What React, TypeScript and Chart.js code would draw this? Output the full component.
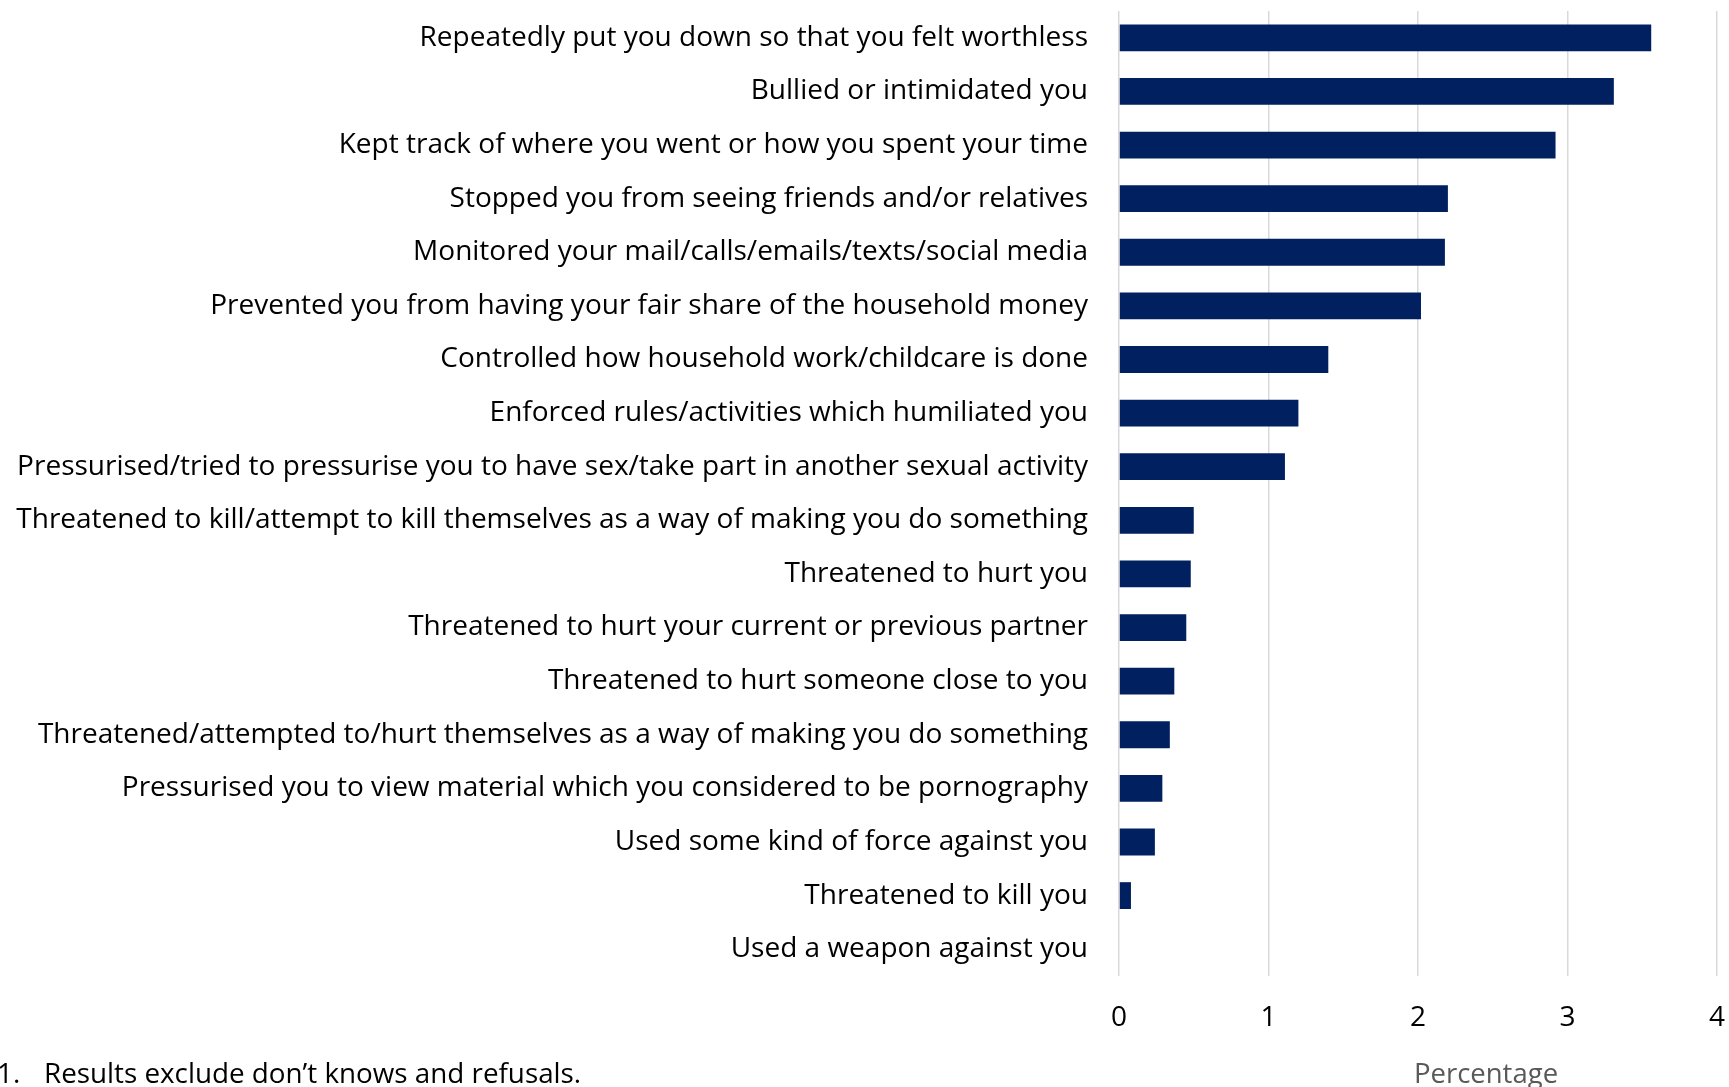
import React, { useEffect, useRef } from "react";
import { Chart, registerables } from "chart.js";

Chart.register(...registerables);

const categories: string[] = [
  "Repeatedly put you down so that you felt worthless",
  "Bullied or intimidated you",
  "Kept track of where you went or how you spent your time",
  "Stopped you from seeing friends and/or relatives",
  "Monitored your mail/calls/emails/texts/social media",
  "Prevented you from having your fair share of the household money",
  "Controlled how household work/childcare is done",
  "Enforced rules/activities which humiliated you",
  "Pressurised/tried to pressurise you to have sex/take part in another sexual activity",
  "Threatened to kill/attempt to kill themselves as a way of making you do something",
  "Threatened to hurt you",
  "Threatened to hurt your current or previous partner",
  "Threatened to hurt someone close to you",
  "Threatened/attempted to/hurt themselves as a way of making you do something",
  "Pressurised you to view material which you considered to be pornography",
  "Used some kind of force against you",
  "Threatened to kill you",
  "Used a weapon against you",
];

const percentages: number[] = [
  3.56, 3.31, 2.92, 2.2, 2.18, 2.02, 1.4, 1.2, 1.11, 0.5, 0.48, 0.45, 0.37, 0.34, 0.29, 0.24, 0.08, 0,
];

const xTicks: number[] = [0, 1, 2, 3, 4];
const axisTitle = "Percentage";
const footnote = "Results exclude don\u2019t knows and refusals.";

const FONT = "'Open Sans', 'Noto Sans', sans-serif";
const FONT_SIZE = 28;

export default function App() {
  const canvasRef = useRef<HTMLCanvasElement | null>(null);

  useEffect(() => {
    const canvas = canvasRef.current;
    if (!canvas) return;
    const chart = new Chart(canvas, {
      type: "bar",
      data: {
        labels: categories,
        datasets: [
          {
            data: percentages,
            backgroundColor: "#002060",
            borderWidth: 0,
            categoryPercentage: 0.5,
            barPercentage: 1,
          },
        ],
      },
      options: {
        indexAxis: "y",
        animation: false,
        responsive: false,
        maintainAspectRatio: false,
        layout: { padding: { top: 11, right: 12, left: 0, bottom: 0 } },
        plugins: {
          legend: { display: false },
          tooltip: { enabled: false },
          title: { display: false },
        },
        scales: {
          x: {
            min: xTicks[0],
            max: xTicks[xTicks.length - 1],
            afterBuildTicks: (scale: any) => {
              scale.ticks = xTicks.map((v) => ({ value: v }));
            },
            afterFit: (scale: any) => {
              scale.height = 111;
              scale.paddingLeft = 0;
              scale.paddingRight = 0;
            },
            grid: {
              display: true,
              color: "#d9d9d9",
              lineWidth: 1.5,
              drawTicks: false,
            },
            border: { display: false },
            ticks: {
              color: "#000000",
              font: { family: FONT, size: FONT_SIZE },
              padding: 25,
            },
          },
          y: {
            afterFit: (scale: any) => {
              scale.width = 1119;
              scale.paddingTop = 0;
              scale.paddingBottom = 0;
            },
            grid: { display: false, drawTicks: false },
            border: { display: false },
            ticks: {
              color: "#000000",
              font: { family: FONT, size: FONT_SIZE },
              padding: 31,
              autoSkip: false,
            },
          },
        },
      },
    });
    return () => chart.destroy();
  }, []);

  return (
    <div style={{ position: "absolute", left: 0, top: 0, width: 1729, height: 1087, background: "#ffffff", overflow: "hidden" }}>
      <canvas ref={canvasRef} width={1729} height={1087} style={{ display: "block" }} />
      <div
        style={{
          position: "absolute",
          left: 1486,
          top: 1072,
          transform: "translate(-50%, -50%)",
          fontFamily: FONT,
          fontSize: 27.5,
          color: "#595959",
          whiteSpace: "nowrap",
        }}
      >
        {axisTitle}
      </div>
      <div
        style={{
          position: "absolute",
          left: -3,
          top: 1072,
          transform: "translateY(-50%)",
          fontFamily: FONT,
          fontSize: 27.8,
          color: "#000000",
          whiteSpace: "nowrap",
        }}
      >
        <span style={{ display: "inline-block", width: 47 }}>1.</span>
        {footnote}
      </div>
    </div>
  );
}
